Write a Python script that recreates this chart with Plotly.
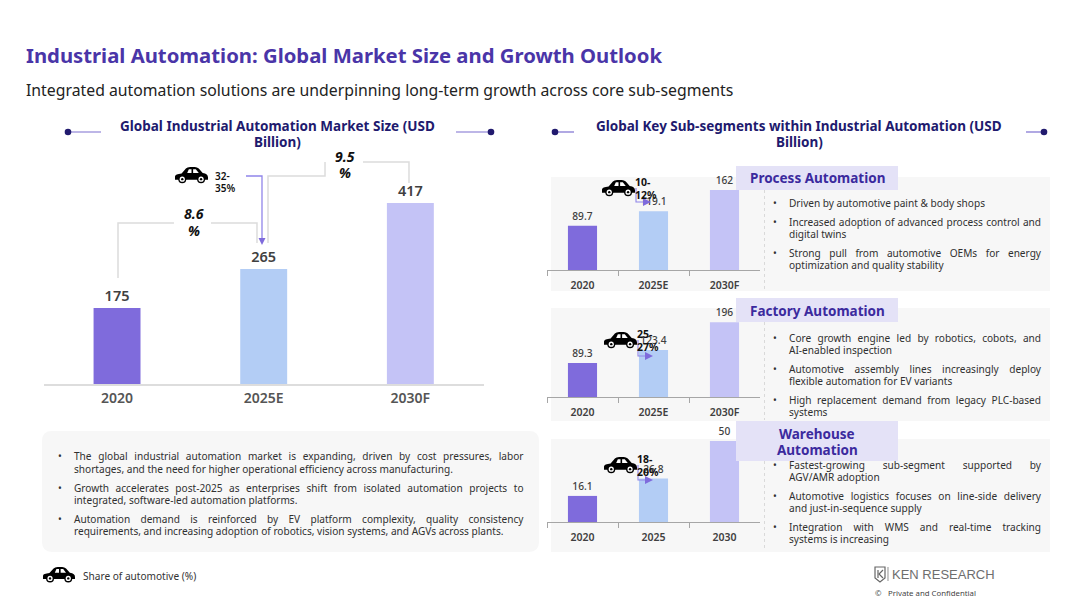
import json
import plotly.graph_objects as go

W, H = 1080, 607
FONT = "Noto Sans"

# Market size, USD billion
main_years = ["2020", "2025E", "2030F"]
main_values = [175, 265, 417]

# Sub-segments, USD billion
process_years = ["2020", "2025E", "2030F"]
process_values = [89.7, 119.1, 162]
factory_years = ["2020", "2025E", "2030F"]
factory_values = [89.3, 123.4, 196]
warehouse_years = ["2020", "2025", "2030"]
warehouse_values = [16.1, 26.8, 50]

bar_colors = ["#7F6BDC", "#B3CDF5", "#C4C3F6"]

left_bullets = [
    ["The global industrial automation market is expanding, driven by cost pressures, labor",
     "shortages, and the need for higher operational efficiency across manufacturing."],
    ["Growth accelerates post-2025 as enterprises shift from isolated automation projects to",
     "integrated, software-led automation platforms."],
    ["Automation demand is reinforced by EV platform complexity, quality consistency",
     "requirements, and increasing adoption of robotics, vision systems, and AGVs across plants."],
]
process_bullets = [
    ["Driven by automotive paint & body shops"],
    ["Increased adoption of advanced process control and", "digital twins"],
    ["Strong pull from automotive OEMs for energy", "optimization and quality stability"],
]
factory_bullets = [
    ["Core growth engine led by robotics, cobots, and", "AI-enabled inspection"],
    ["Automotive assembly lines increasingly deploy", "flexible automation for EV variants"],
    ["High replacement demand from legacy PLC-based", "systems"],
]
warehouse_bullets = [
    ["Fastest-growing sub-segment supported by", "AGV/AMR adoption"],
    ["Automotive logistics focuses on line-side delivery", "and just-in-sequence supply"],
    ["Integration with WMS and real-time tracking", "systems is increasing"],
]


def fx(x):
    return x / W


def fy(y):
    return 1 - y / H


shapes = []
annotations = []
justified = {}


def txt(x, y, s, size=11, color="#333333", weight=400, anchor="left", italic=False, family=FONT):
    annotations.append(dict(
        x=fx(x), y=fy(y), xref="paper", yref="paper", text=s, showarrow=False,
        xanchor=anchor, yanchor="middle", align=anchor, borderpad=0,
        font=dict(family=family, size=size, color=color, weight=weight,
                  style="italic" if italic else "normal"),
    ))


def rect(x0, y0, x1, y1, color, layer="below"):
    shapes.append(dict(type="rect", xref="paper", yref="paper", x0=fx(x0), x1=fx(x1),
                       y0=fy(y0), y1=fy(y1), fillcolor=color, line_width=0, layer=layer))


def poly(points, color, width=1.0, fill=None, closed=False, dash="solid", layer="above"):
    d = "M" + " L".join(f"{fx(x):.5f},{fy(y):.5f}" for x, y in points) + (" Z" if closed else "")
    shape = dict(type="path", xref="paper", yref="paper", path=d, layer=layer,
                 line=dict(color=color, width=width, dash=dash))
    if fill:
        shape["fillcolor"] = fill
    else:
        shape["fillcolor"] = "rgba(0,0,0,0)"
    shapes.append(shape)


def dot(cx, cy, r, color):
    shapes.append(dict(type="circle", xref="paper", yref="paper", x0=fx(cx - r), x1=fx(cx + r),
                       y0=fy(cy - r), y1=fy(cy + r), fillcolor=color, line_width=0, layer="above"))


def rounded(x0, y0, x1, y1, r, color):
    def p(x, y):
        return f"{fx(x):.5f},{fy(y):.5f}"
    d = (f"M{p(x0 + r, y0)} L{p(x1 - r, y0)} Q{p(x1, y0)} {p(x1, y0 + r)} "
         f"L{p(x1, y1 - r)} Q{p(x1, y1)} {p(x1 - r, y1)} L{p(x0 + r, y1)} "
         f"Q{p(x0, y1)} {p(x0, y1 - r)} L{p(x0, y0 + r)} Q{p(x0, y0)} {p(x0 + r, y0)} Z")
    shapes.append(dict(type="path", xref="paper", yref="paper", path=d, fillcolor=color,
                       line_width=0, layer="below"))


def car(x, y, w=33, h=16):
    """Car pictogram with its box's top-left corner at (x, y)."""
    def p(a, b):
        return f"{fx(x + a * w):.5f},{fy(y + b * h):.5f}"
    body = (f"M{p(0, .62)} C{p(0, .46)} {p(.08, .44)} {p(.2, .4)} L{p(.33, .1)} "
            f"Q{p(.37, 0)} {p(.46, 0)} L{p(.6, 0)} Q{p(.67, 0)} {p(.72, .1)} L{p(.84, .38)} "
            f"C{p(.95, .42)} {p(1, .5)} {p(1, .66)} L{p(1, .8)} L{p(0, .8)} Z")
    shapes.append(dict(type="path", xref="paper", yref="paper", path=body, fillcolor="#000000",
                       line_width=0, layer="above"))
    for win in ([(.37, .38), (.42, .14), (.5, .14), (.5, .38)],
                [(.55, .38), (.55, .14), (.63, .14), (.72, .38)]):
        poly([(x + a * w, y + b * h) for a, b in win], "#FFFFFF", 0, fill="#FFFFFF", closed=True)
    for cx in (.22, .79):
        dot(x + cx * w, y + .76 * h, 4.0, "#000000")
        dot(x + cx * w, y + .76 * h, 2.6, "#FFFFFF")
        dot(x + cx * w, y + .76 * h, 1.2, "#000000")


def bullets(groups, ys, bullet_x, text_x, right, size, color="#303030"):
    for group, group_ys in zip(groups, ys):
        txt(bullet_x, group_ys[0], "•", size=size, color=color)
        for i, (line, y) in enumerate(zip(group, group_ys)):
            txt(text_x, y, line, size=size, color=color)
            if i == 0 and len(group) > 1:
                justified[line] = right - text_x


fig = go.Figure()


def add_chart(idx, years, values, x0, x1, base_y, top_y, px_per_unit, bar_width, label_size, tick_size,
              label_weight, tick_weight, tick_color, line_color, line_width, ticks):
    suffix = "" if idx == 1 else str(idx)
    fig.add_trace(go.Bar(
        x=years, y=values, xaxis="x" + suffix, yaxis="y" + suffix, width=bar_width,
        marker=dict(color=bar_colors, line_width=0),
        text=[f"{v:g}" for v in values], textposition="outside", cliponaxis=False,
        textfont=dict(family=FONT, size=label_size, color="#404040", weight=label_weight),
        hoverinfo="skip", showlegend=False,
    ))
    fig.update_layout({
        "xaxis" + suffix: dict(
            domain=[fx(x0), fx(x1)], anchor="y" + suffix, type="category", showgrid=False,
            showline=True, linecolor=line_color, linewidth=line_width, zeroline=False,
            ticks="outside" if ticks else "", ticklen=5, tickcolor=line_color, tickwidth=1,
            tickson="boundaries" if ticks else None,
            tickfont=dict(family=FONT, size=tick_size, color=tick_color, weight=tick_weight),
            ticklabelstandoff=5 if ticks else 0,
        ),
        "yaxis" + suffix: dict(
            domain=[fy(base_y), fy(top_y)], anchor="x" + suffix, visible=False,
            range=[0, (base_y - top_y) / px_per_unit], fixedrange=True,
        ),
    })


# Backgrounds
rounded(42, 431, 539, 552, 10, "#F7F7F7")
rect(551, 177, 1050, 291, "#F7F7F7")
rect(551, 308, 1050, 421, "#F7F7F7")
rect(551, 439, 1050, 552, "#F7F7F7")
for y0, y1 in ((190, 290), (322, 420), (461, 551)):
    poly([(764.5, y0), (764.5, y1)], "#D9D9D9", 1, dash="dot", layer="below")

# Charts
add_chart(1, main_years, main_values, 43.7, 483.7, 384, 160, 0.434, 0.32, 14.5, 14, 600, 600, "#555555", "#DDDDDD", 2, False)
add_chart(2, process_years, process_values, 547, 760, 270, 170, 0.4933, 0.41, 10.2, 10.5, 500, 600, "#404040", "#A6A6A6", 1, True)
add_chart(3, factory_years, factory_values, 547, 760, 397, 300, 0.381, 0.41, 10.2, 10.5, 500, 600, "#404040", "#A6A6A6", 1, True)
add_chart(4, warehouse_years, warehouse_values, 547, 760, 522, 425, 1.62, 0.41, 10.2, 10.5, 500, 600, "#404040", "#A6A6A6", 1, True)

# Headings
txt(24.5, 55.5, "Industrial Automation: Global Market Size and Growth Outlook", size=20.3, color="#4A35A8", weight=700)
txt(24.5, 89.5, "Integrated automation solutions are underpinning long-term growth across core sub-segments",
    size=15.8, color="#222222")

NAVY = "#211A6E"
txt(277.5, 126, "Global Industrial Automation Market Size (USD", size=13.5, color=NAVY, weight=700, anchor="center")
txt(277.5, 141.5, "Billion)", size=13.5, color=NAVY, weight=700, anchor="center")
txt(799, 126, "Global Key Sub-segments within Industrial Automation (USD", size=13.5, color=NAVY, weight=700, anchor="center")
txt(799, 141.5, "Billion)", size=13.5, color=NAVY, weight=700, anchor="center")
for a, b, d in ((68, 101, 68), (456, 491, 491), (555, 574, 555), (1026, 1044, 1044)):
    poly([(a, 132), (b, 132)], "#7C6FD0", 1.2)
    dot(d, 132, 3.3, NAVY)

# Growth connectors on the market-size chart
poly([(118, 278), (118, 223), (174, 223)], "#DCDCDC", 1.5)
poly([(211, 223), (257, 223), (257, 243)], "#DCDCDC", 1.5)
poly([(268, 243), (268, 176), (325, 176), (325, 162)], "#DCDCDC", 1.5)
poly([(363, 162), (409, 162), (409, 183)], "#DCDCDC", 1.5)
poly([(246, 176), (262, 176), (262, 239)], "#9085EA", 1.3)
poly([(258.5, 238), (265.5, 238), (262, 245)], "#7F6BDC", 0, fill="#7F6BDC", closed=True)
txt(194, 214, "8.6", size=14, color="#111111", weight=700, anchor="center", italic=True)
txt(194, 231, "%", size=14, color="#111111", weight=700, anchor="center", italic=True)
txt(345, 156, "9.5", size=14, color="#111111", weight=700, anchor="center", italic=True)
txt(345, 172, "%", size=14, color="#111111", weight=700, anchor="center", italic=True)
car(175, 167)
txt(214, 176, "32-", size=10, color="#111111", weight=600)
txt(214, 188, "35%", size=10, color="#111111", weight=600)


def segment_marker(car_y, first, second, elbow_y):
    cx = 602 if car_y < 200 else 604
    ex = cx + 34
    poly([(ex, car_y + 8), (ex, elbow_y), (ex + 8, elbow_y)], "#9085EA", 1.1)
    poly([(ex + 7, elbow_y - 4), (ex + 15, elbow_y), (ex + 7, elbow_y + 4)], "#7F6BDC", 0, fill="#7F6BDC", closed=True)
    car(cx, car_y)
    txt(cx + 32, car_y + 2, first, size=10.5, color="#111111", weight=700)
    txt(cx + 32, car_y + 15, second, size=10.5, color="#111111", weight=700)


segment_marker(180, "10-", "12%", 202)
segment_marker(332, "25-", "27%", 356)
segment_marker(457, "18-", "20%", 480)

# Segment headers
HEAD = "#3B2A9E"
rect(736, 166, 898, 190, "#E4E2F7", layer="above")
rect(736, 298, 898, 322, "#E4E2F7", layer="above")
rect(736, 421, 898, 461, "#E4E2F7", layer="above")
txt(817, 177.5, "Process Automation", size=13.5, color=HEAD, weight=700, anchor="center")
txt(817, 310.5, "Factory Automation", size=13.5, color=HEAD, weight=700, anchor="center")
txt(817, 433.5, "Warehouse", size=13.5, color=HEAD, weight=700, anchor="center")
txt(817, 450, "Automation", size=13.5, color=HEAD, weight=700, anchor="center")

# Commentary
bullets(left_bullets, [(456, 468.5), (487.5, 499.5), (518.5, 531)], 57, 72.5, 522, 10.1)
bullets(process_bullets, [(203,), (222, 234), (253, 265)], 772, 788, 1040, 10.1)
bullets(factory_bullets, [(338, 350), (369, 381), (400, 412)], 772, 788, 1040, 10.1)
bullets(warehouse_bullets, [(465, 477), (496, 508), (527, 539)], 772, 788, 1040, 10.1)

# Footer
car(43, 567, 32, 15)
txt(81.5, 576, "Share of automotive (%)", size=10.1, color="#333333")
poly([(875, 567), (885, 567), (885, 578), (880, 582), (875, 578)], "#666666", 1.2, closed=True)
poly([(878, 570), (878, 578)], "#666666", 1.2)
poly([(883, 570), (879, 574), (883, 578)], "#666666", 1.2)
poly([(888, 567), (888, 581)], "#777777", 0.8)
txt(891, 574.5, "KEN RESEARCH", size=13, color="#6E6E6E", family="Liberation Sans")
txt(874, 592.5, "©", size=7.8, color="#444444")
txt(887, 592.5, "Private and Confidential", size=7.8, color="#444444")

fig.update_layout(
    width=W, height=H, margin=dict(l=0, r=0, t=0, b=0, pad=0),
    paper_bgcolor="#FFFFFF", plot_bgcolor="rgba(0,0,0,0)",
    shapes=shapes, annotations=annotations, showlegend=False,
    font=dict(family=FONT),
)

# Spread the first line of each paragraph to the full text column
JUSTIFY_JS = """
var widths = %s;
function justifyLines() {
  document.querySelectorAll('.annotation-text').forEach(function (el) {
    var w = widths[el.textContent];
    if (!w) return;
    el.style.wordSpacing = '0px';
    var gaps = el.textContent.split(' ').length - 1;
    el.style.wordSpacing = ((w - el.getComputedTextLength()) / gaps) + 'px';
  });
}
justifyLines();
requestAnimationFrame(justifyLines);
""" % json.dumps(justified)

fig.write_html("out.html", post_script=JUSTIFY_JS, config={"displayModeBar": False})
